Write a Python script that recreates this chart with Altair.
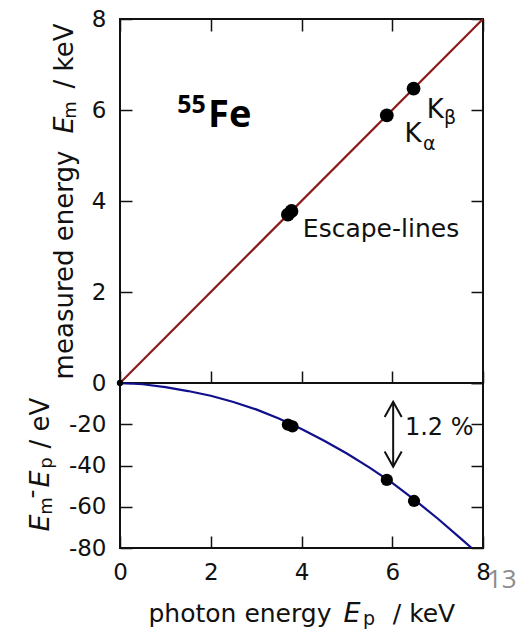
import altair as alt
import pandas as pd

FONT = "DejaVu Sans"
INK = "#111111"

# ---------------- data ----------------
# top panel: measured energy vs photon energy (keV)
diag_x = [0.0, 8.0]
diag_y = [0.0, 8.0]
peak_x = [3.70, 3.78, 5.88, 6.47]
peak_y = [3.70, 3.78, 5.88, 6.47]

# bottom panel: deviation Em - Ep (eV)
curve_x = [0.0, 0.5, 1.0, 1.5, 2.0, 2.5, 3.0, 3.5, 4.0, 4.5, 5.0, 5.5, 6.0, 6.5, 7.0, 7.5, 7.75]
curve_y = [0.0, -0.6, -2.0, -3.9, -6.2, -9.2, -12.8, -17.2, -22.3, -28.0, -34.2, -41.0, -48.4, -56.8, -65.7, -75.2, -80.0]
dev_x = [3.70, 3.80, 5.88, 6.48]
dev_y = [-20.2, -21.0, -47.0, -57.2]
origin_x = [0.0]
origin_y = [0.0]

x_ticks = [0, 2, 4, 6, 8]
top_y_labels = [2, 4, 6, 8]
top_y_ticks = [0, 2, 4, 6, 8]
bot_y_ticks = [0, -20, -40, -60, -80]

# annotations (text, x, y, font size) in data units
top_ann_t = ["Escape-lines", "K", "α", "K", "β"]
top_ann_x = [4.03, 6.27, 6.68, 6.76, 7.14]
top_ann_y = [3.21, 5.30, 5.12, 5.82, 5.69]
top_ann_s = [25, 26, 19, 26, 19]

iso_t = ["55", "Fe"]
iso_x = [1.26, 1.94]
iso_y = [5.93, 5.63]
iso_s = [25, 38]

pct_t = ["1.2 %"]
pct_x = [6.28]
pct_y = [-25.2]
arrow_x = [6.02]
arrow_top = [-9.1]
arrow_bot = [-40.6]

sep_y = [0.0]  # boundary between the two panels (deviation = 0)

# ---------------- layout ----------------
W = 363
H_TOP = 364
H_BOT = 165
H = H_TOP + H_BOT

xs = alt.Scale(domain=[0, 8], nice=False, zero=False)
ys_top = alt.Scale(domain=[0, 8], nice=False, range=[H_TOP, 0])
ys_bot = alt.Scale(domain=[-80, 0], nice=False, range=[H, H_TOP])


def ax(orient, values, labels=False, **kw):
    d = dict(orient=orient, values=values, labels=labels, domain=False, ticks=True,
             tickSize=12, offset=-12, tickColor=INK, tickWidth=1.5, grid=False,
             title=None, labelFlush=False, labelOverlap=False, labelFont=FONT,
             labelFontSize=23, labelColor=INK, labelPadding=14,
             labelExpr="'' + datum.value")
    d.update(kw)
    return alt.Axis(**d)


def seg(txt, px, py, size=25, italic=False, angle=0, font=FONT, color=INK, align="center"):
    kw = dict(align=align, baseline="alphabetic", font=font, fontSize=size, color=color, angle=angle)
    if italic:
        kw["fontStyle"] = "italic"
    return alt.Chart(pd.DataFrame({"t": [txt]})).mark_text(**kw).encode(
        text="t:N", x=alt.value(px), y=alt.value(py))


# ---------------- top panel ----------------
top_line = alt.Chart(pd.DataFrame({"x": diag_x, "y": diag_y})).mark_line(
    color="#8b1a1a", strokeWidth=2.2, clip=True).encode(
    x=alt.X("x:Q", scale=xs, axis=ax("bottom", x_ticks, offset=-(H_BOT + 12))),
    y=alt.Y("y:Q", scale=ys_top, axis=ax("left", top_y_labels, labels=True)))

top_pts = alt.Chart(pd.DataFrame({"x": peak_x, "y": peak_y})).mark_circle(
    size=190, color="black", opacity=1).encode(
    x=alt.X("x:Q", scale=xs, axis=ax("top", x_ticks)),
    y=alt.Y("y:Q", scale=ys_top, axis=ax("right", top_y_ticks)))

top_ann = alt.Chart(pd.DataFrame({"x": top_ann_x, "y": top_ann_y, "t": top_ann_t, "s": top_ann_s})).mark_text(
    align="left", baseline="alphabetic", font=FONT, color=INK).encode(
    x=alt.X("x:Q", scale=xs, axis=None),
    y=alt.Y("y:Q", scale=ys_top, axis=None),
    text="t:N", size=alt.Size("s:Q", scale=None, legend=None))

iso_ann = alt.Chart(pd.DataFrame({"x": iso_x, "y": iso_y, "t": iso_t, "s": iso_s})).mark_text(
    align="left", baseline="alphabetic", font="Open Sans", fontWeight="bold", color="black").encode(
    x=alt.X("x:Q", scale=xs, axis=None),
    y=alt.Y("y:Q", scale=ys_top, axis=None),
    text="t:N", size=alt.Size("s:Q", scale=None, legend=None))

# ---------------- bottom panel ----------------
sep_rule = alt.Chart(pd.DataFrame({"y": sep_y})).mark_rule(color=INK, strokeWidth=2).encode(
    x=alt.value(0), x2=alt.value(W),
    y=alt.Y("y:Q", scale=ys_bot, axis=None))

bot_line = alt.Chart(pd.DataFrame({"x": curve_x, "y": curve_y})).mark_line(
    color="#10108c", strokeWidth=2.2, clip=True).encode(
    x=alt.X("x:Q", scale=xs, axis=ax("bottom", x_ticks, labels=True, labelPadding=13)),
    y=alt.Y("y:Q", scale=ys_bot, axis=ax("left", bot_y_ticks, labels=True)))

bot_pts = alt.Chart(pd.DataFrame({"x": dev_x, "y": dev_y})).mark_circle(
    size=150, color="black", opacity=1).encode(
    x=alt.X("x:Q", scale=xs, axis=None),
    y=alt.Y("y:Q", scale=ys_bot, axis=ax("right", bot_y_ticks)))

bot_origin = alt.Chart(pd.DataFrame({"x": origin_x, "y": origin_y})).mark_circle(
    size=40, color="black", opacity=1).encode(
    x=alt.X("x:Q", scale=xs, axis=None),
    y=alt.Y("y:Q", scale=ys_bot, axis=None))

arrow_df = pd.DataFrame({"x": arrow_x, "y": arrow_top, "y2": arrow_bot})
arrow_rule = alt.Chart(arrow_df).mark_rule(color=INK, strokeWidth=2).encode(
    x=alt.X("x:Q", scale=xs, axis=None),
    y=alt.Y("y:Q", scale=ys_bot, axis=None), y2="y2:Q")
head_up = alt.Chart(arrow_df).mark_point(
    shape="M -1 1.8 L 0 0 L 1 1.8", filled=False, size=289, color=INK, strokeWidth=2, opacity=1).encode(
    x=alt.X("x:Q", scale=xs, axis=None),
    y=alt.Y("y:Q", scale=ys_bot, axis=None))
head_dn = alt.Chart(arrow_df).mark_point(
    shape="M -1 -1.8 L 0 0 L 1 -1.8", filled=False, size=289, color=INK, strokeWidth=2, opacity=1).encode(
    x=alt.X("x:Q", scale=xs, axis=None),
    y=alt.Y("y2:Q", scale=ys_bot, axis=None))

pct_ann = alt.Chart(pd.DataFrame({"x": pct_x, "y": pct_y, "t": pct_t})).mark_text(
    align="left", baseline="alphabetic", font=FONT, fontSize=24, color=INK).encode(
    x=alt.X("x:Q", scale=xs, axis=None),
    y=alt.Y("y:Q", scale=ys_bot, axis=None), text="t:N")

# ---------------- axis titles (mixed styles) ----------------
B = H_TOP  # top of bottom panel
titles = [
    seg("measured energy", -47, 246, size=26, angle=270),
    seg("E", -47, 106, size=27, italic=True, angle=270),
    seg("m", -44, 91, size=18, angle=270),
    seg("/ keV", -47, 37, size=26, angle=270),
    seg("E", -71, B + 140, size=27, italic=True, angle=270),
    seg("m", -68, B + 123, size=18, angle=270),
    seg("-", -80, B + 111, angle=270),
    seg("E", -71, B + 96, size=27, italic=True, angle=270),
    seg("p", -68, B + 80, size=18, angle=270),
    seg("/ eV", -71, B + 40, size=26, angle=270),
    seg("photon energy", 120, B + 239, size=25),
    seg("E", 232, B + 239, size=27, italic=True),
    seg("p", 249, B + 242, size=19),
    seg("/ keV", 304, B + 239, size=25),
    seg("13", 367, B + 205, size=26, font="Open Sans", color="#8c8c8c", align="left"),
]

chart = alt.layer(
    top_line, top_pts, top_ann, iso_ann,
    sep_rule, bot_line, bot_pts, bot_origin, arrow_rule, head_up, head_dn, pct_ann,
    *titles,
).resolve_scale(y="independent").resolve_axis(x="independent", y="independent").properties(
    width=W, height=H,
    padding={"left": 120, "top": 19, "right": 42, "bottom": 81},
    autosize=alt.AutoSizeParams(type="none"),
    background="white",
).configure_view(stroke=INK, strokeWidth=2)

chart.save("out.html", embed_options={"renderer": "svg", "actions": False})
